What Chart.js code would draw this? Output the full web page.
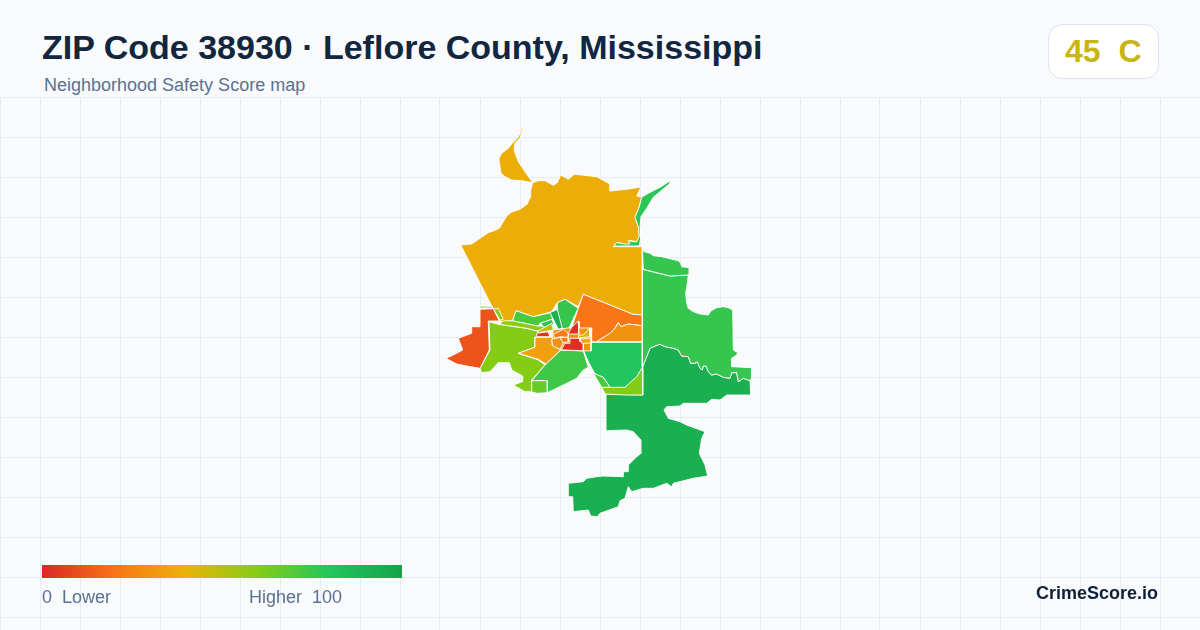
<!DOCTYPE html>
<html>
<head>
<meta charset="utf-8">
<title>ZIP Code 38930</title>
<script src="https://cdn.jsdelivr.net/npm/chart.js@4/dist/chart.umd.min.js"></script>
<style>
html, body { margin: 0; padding: 0; }
body { width: 1200px; height: 630px; overflow: hidden; background: #f8fafc; position: relative; font-family: "Liberation Sans", Arial, sans-serif; }
#map { position: absolute; left: 0; top: 97px; }
.txt { position: absolute; white-space: pre; line-height: 1; }
#title { left: 42px; top: 30px; font-size: 34px; font-weight: 700; color: #12263f; }
#sub { left: 44px; top: 76px; font-size: 18px; color: #5a7190; }
#badge { position: absolute; left: 1048px; top: 24px; width: 109px; height: 53px; background: #fff; border: 1px solid #dde4ee; border-radius: 14px; }
#grade { left: 1065px; top: 35px; font-size: 32px; font-weight: 700; color: #c9b512; }
#bar { position: absolute; left: 42px; top: 565px; width: 360px; height: 13px; }
#low { left: 42px; top: 588px; font-size: 18px; color: #5a7190; }
#high { left: 249px; top: 588px; font-size: 18px; color: #5a7190; }
#brand { right: 42px; top: 584px; font-size: 18px; font-weight: 700; color: #0f1f35; }
</style>
</head>
<body>
<canvas id="map" width="1200" height="533"></canvas>
<div class="txt" id="title">ZIP Code 38930 · Leflore County, Mississippi</div>
<div class="txt" id="sub">Neighborhood Safety Score map</div>
<div id="badge"></div>
<div class="txt" id="grade">45  C</div>
<div id="bar"></div>
<div class="txt" id="low">0  Lower</div>
<div class="txt" id="high">Higher  100</div>
<div class="txt" id="brand">CrimeScore.io</div>
<script>
const $ = (id) => document.getElementById(id);

// score colour ramp, 0 to 100
const rampStops = [0, 20, 40, 60, 80, 100];
const rampColors = ["#dc2626", "#f97316", "#eab308", "#84cc16", "#22c55e", "#16a34a"];

// tract outlines
const northAmber = [[532.7,182.7],[538.3,180.7],[545,180.7],[553.3,185.3],[557.3,182.7],[560.7,175],[568.3,179.3],[574.3,174.3],[581.7,175],[596.7,176.7],[610,184],[610,191],[626.7,189.3],[641,187],[636.7,196],[641.7,197.3],[639.3,206.7],[635,217.3],[638.3,226.7],[639.3,236.7],[636.7,241.7],[631.7,240.7],[629,240.7],[630.7,245],[625,245],[620,242.7],[616,243.3],[613.3,246.7],[642.3,246.7],[642.3,315],[633,314.3],[583.3,294.3],[578.3,306.7],[565,299.3],[557.3,302.7],[551.7,311.7],[533.3,316.7],[516,310.7],[512.7,320.7],[501.7,321.7],[491.7,306],[460.7,245],[471.7,244],[480,238.3],[488.3,232.7],[493.3,231],[499.3,228.3],[503.3,221.7],[506.7,216],[511.7,212],[520,209.3],[527.3,204],[530,197.3],[530.7,190],[532.7,182.7],[521.7,180.7],[511.7,180],[505,176.7],[501,173.3],[499.3,161.7],[499,158.3],[501.7,153.3],[508.3,148.3],[512.7,142.7],[517.3,138.3],[520.7,132.7],[521.7,125.7],[522.7,130],[520,138],[515,143],[514,150],[518.3,161.7],[525,171.7]];
const northSliver = [[671,180.3],[669.3,184],[660,191.7],[653.3,197.3],[646.7,208.3],[641,216.7],[640,226.7],[640.7,238.3],[639.3,246],[614,246],[616.7,242.7],[625,244],[630,244],[628.3,240.7],[633.3,241.7],[636.7,241.7],[639.3,236],[638.3,226.7],[635,217.3],[639.3,206.7],[641.7,197.3],[648.3,193.3],[660,187.3]];
const eastTop = [[642.3,247.7],[644,251.7],[650,253.3],[653.3,255.7],[661.7,256.7],[670,258.7],[678.3,260.7],[680.7,263.3],[681.7,266.7],[689.3,267.7],[689.3,273.3],[688.3,275],[670,276],[643.3,269.3]];
const eastMain = [[642.3,269.3],[670,276],[688.3,275],[687.3,283.3],[685.7,293.3],[686.7,303.3],[688.3,308.3],[693.3,311.7],[700,314],[708.3,315],[710.7,311],[716.7,307.7],[723.3,306.7],[728.3,307.7],[732.7,310],[733.3,350],[737.7,352.7],[736.7,355],[731.7,358.3],[731.7,366.7],[751.7,367.7],[751.7,377.3],[750,380.7],[743.3,378.3],[738.3,381.7],[736.7,372.7],[731.7,372.7],[730,378.3],[723.3,377.3],[716.7,374],[711.7,375],[708.3,371.7],[706,366],[703.3,366],[702.3,370],[700,368.3],[697.3,361.7],[695,363.3],[690.7,363.3],[688.3,356.7],[681.7,356],[678.3,350],[673.3,348.3],[665,346.7],[660,344.3],[655,346],[650,348.3],[646.7,356.7],[642.7,366.7]];
const southBig = [[650,348.3],[655,346],[660,344.3],[665,346.7],[673.3,348.3],[678.3,350],[681.7,356],[688.3,356.7],[690.7,363.3],[695,363.3],[697.3,361.7],[700,368.3],[702.3,370],[703.3,366],[706,366],[708.3,371.7],[711.7,375],[716.7,374],[723.3,377.3],[730,378.3],[731.7,372.7],[736.7,372.7],[738.3,381.7],[743.3,378.3],[750,380.7],[750.7,395],[726.7,395],[720,400],[711.7,399.3],[706.7,403.3],[683.3,403.3],[680,406],[666.7,406.7],[664,410],[668.3,418.3],[680,421.7],[686.7,425],[705,431.7],[701.7,438.3],[699.3,453.3],[705,465],[707.7,476],[693.3,478.3],[673.3,483.3],[671.7,486.7],[666.7,483.3],[653.3,488.3],[643.3,488.3],[631.7,491.7],[628.3,486.7],[625,498.3],[620,500.7],[618.3,506.7],[600,513.3],[597.3,516.7],[590.7,516],[588.3,510],[573.3,511.7],[572.7,496.7],[568.3,496.7],[568.3,483.3],[583.3,481.7],[586.7,478.3],[596.7,476.7],[603.3,476],[623.3,476.7],[623.3,471.7],[628.3,471.7],[628.3,465],[636.7,456.7],[641.7,452.7],[641,440],[633.3,431.7],[626.7,430],[606,430.7],[606,394],[642.7,395],[642.7,366.7]];
const southLime = [[642.7,367.3],[642.7,395],[625,395],[605,394],[601.7,387.3],[610,387.3],[625,387.3],[636.7,375]];
const midGreen = [[584,342.3],[642.3,342.3],[642.3,367.3],[636.7,376.7],[625,387.3],[610,387.3],[603.3,377.3],[595,374],[588.3,361.7],[584,351.7]];
const midSliver = [[593.3,373.3],[603.3,377.3],[610,387.3],[601.7,387.3]];
const midSouth = [[560.7,350],[583.3,351],[588.3,367.3],[583.3,370],[576.7,378.3],[563.3,385],[547.3,392.7],[547.3,380.7],[531.7,380.7],[545,365]];
const squareTract = [[531.7,380.7],[547.3,380.7],[547.3,392.7],[536.7,393.3],[531.7,391.7]];
const westLime = [[489,321.7],[498.3,324.3],[526.7,328.3],[540,331.7],[537.3,336.7],[535,337.3],[535,347.3],[518.3,353.3],[538.3,360],[545,365],[531.7,380],[531.7,391.7],[525,391.7],[513.3,385],[522.3,381.7],[522.7,376],[511.7,370],[509.3,362.7],[498.3,362.7],[493.3,368.3],[490,371.7],[481.7,372.7],[480,368.3],[490,350]];
const westRed = [[480,309.3],[493.3,308.7],[499.3,321],[488.3,321],[489.3,350],[480,368.3],[466.7,366],[456.7,364],[446,358.3],[453.3,355],[462.7,350],[458.3,338.3],[471.7,333.3],[471.7,326.7],[480,326.7]];
const westStrip = [[480,306],[492,306.5],[492.5,308],[480,308]];
const westNeck = [[493.3,308.7],[498.3,308.7],[503.3,319.3],[500,320]];
const corridor = [[499.3,324.3],[503.3,321],[512.7,320.7],[538.3,326],[553.3,326],[555,330.7],[540,331.7],[526.7,328.3]];
const swAmber = [[535,337.3],[553.3,337.3],[552.7,345],[560.7,350],[546,364],[538.3,359.3],[518.3,353.3],[535,347.3]];
const redSliver = [[536.7,333.3],[548,331.7],[550,336.7],[536.7,336.7]];
const cityYellow = [[537,331.5],[551.7,323.3],[553.3,330],[540,332.5]];
const northGreen = [[512.7,320.7],[516,310.7],[533.3,316.7],[550.7,312.7],[552.7,319.3],[540,323.3],[538.3,326]];
const smallGreen = [[540.7,323.3],[551.7,319.3],[554,324],[544,327.3]];
const darkStrip = [[550,312.7],[557.3,309.3],[564,327.3],[558.3,329.3]];
const bubble = [[557.3,309.3],[557.3,302.7],[565,299.3],[578.3,308.3],[568.3,329.3],[562.7,330]];
const eastOrange = [[583.3,294.3],[633,314.3],[642.3,315],[642.3,325.7],[628.3,324],[621,326.7],[618.3,322.7],[615,328.3],[610,333.3],[596.7,341.7],[591,341.7],[591.7,328],[584,333],[579.3,331.7],[579.3,322],[570,333],[577.3,311]];
const eastAmber = [[596.7,341.7],[610,333.3],[615,328.3],[618.3,322.7],[621,326.7],[628.3,324],[642.3,325.7],[642.3,341.7]];
const cityBase = [[553,330],[568,328],[591.7,328],[591,351],[561,350],[552,345]];
const cityA = [[553.3,334.3],[563.3,329.3],[568.3,333.3],[568.3,337.3],[560,336.7],[555,338.3]];
const cityB = [[551.7,339.3],[560,337.3],[563.3,342.7],[560,349.3],[552.7,346]];
const cityC = [[560,337.3],[568.3,337.7],[568.3,341.7],[563.3,342.7]];
const citySpike = [[568,334],[571.7,327.3],[578.3,321],[578.7,334]];
const cityRed = [[570,338.3],[580,338.3],[580,341.7],[583.3,341.7],[583.3,350.7],[563.3,350],[561.7,349],[565,343.3],[570,343.3]];
const cityGold = [[578.7,335],[583.3,335],[590,328],[590,336.7],[578.7,338]];
const cityAmber = [[580,339],[591.7,338.3],[591,343],[582,343.5]];

// drawn in this order, later ones on top
const tracts = [southBig, eastMain, eastTop, northAmber, northSliver, southLime, midGreen, midSliver, westLime, westRed, westStrip, westNeck, midSouth, squareTract, swAmber, corridor, northGreen, smallGreen, darkStrip, bubble, eastOrange, eastAmber, cityYellow, redSliver, cityBase, cityA, cityB, cityC, citySpike, cityRed, cityGold, cityAmber];
const tractScores = [93, 76, 76, 38, 78, 60, 80, 72, 60, 12, 60, 60, 74, 66, 34, 58, 72, 78, 92, 76, 21, 30, 48, 4, 30, 22, 30, 22, 2, 2, 44, 36];

function hexToRgb(h) {
    return [1, 3, 5].map(i => parseInt(h.slice(i, i + 2), 16));
}

function scoreColor(s) {
    let i = 0;
    while (i < rampStops.length - 2 && s > rampStops[i + 1]) i++;
    const t = (s - rampStops[i]) / (rampStops[i + 1] - rampStops[i]);
    const a = hexToRgb(rampColors[i]);
    const b = hexToRgb(rampColors[i + 1]);
    const c = a.map((v, k) => Math.round(v + (b[k] - v) * t));
    return `rgb(${c[0]},${c[1]},${c[2]})`;
}

$("bar").style.background = `linear-gradient(90deg, ${rampColors.map((c, i) => `${c} ${rampStops[i]}%`).join(", ")})`;

const gridColor = "#e6edf2";
const datasets = tracts.map((outline, i) => ({
    data: outline.concat([outline[0]]).map(p => ({ x: p[0], y: p[1] })),
    showLine: true,
    fill: "shape",
    tension: 0,
    pointRadius: 0,
    borderWidth: 0.9,
    borderColor: "#ffffff",
    backgroundColor: scoreColor(tractScores[i]),
    order: -i
}));

new Chart($("map").getContext("2d"), {
    type: "scatter",
    data: { datasets },
    options: {
        responsive: false,
        animation: false,
        devicePixelRatio: 1,
        layout: { padding: 0 },
        plugins: { legend: { display: false }, tooltip: { enabled: false } },
        scales: {
            x: {
                min: 0, max: 1200,
                ticks: { display: false, stepSize: 40 },
                border: { display: false },
                grid: { color: gridColor, drawTicks: false }
            },
            y: {
                reverse: true,
                min: 97, max: 630,
                afterBuildTicks: (axis) => {
                    axis.ticks = [];
                    for (let v = 97; v <= 630; v += 40) axis.ticks.push({ value: v });
                },
                ticks: { display: false },
                border: { display: false },
                grid: { color: gridColor, drawTicks: false }
            }
        }
    }
});
</script>
</body>
</html>
